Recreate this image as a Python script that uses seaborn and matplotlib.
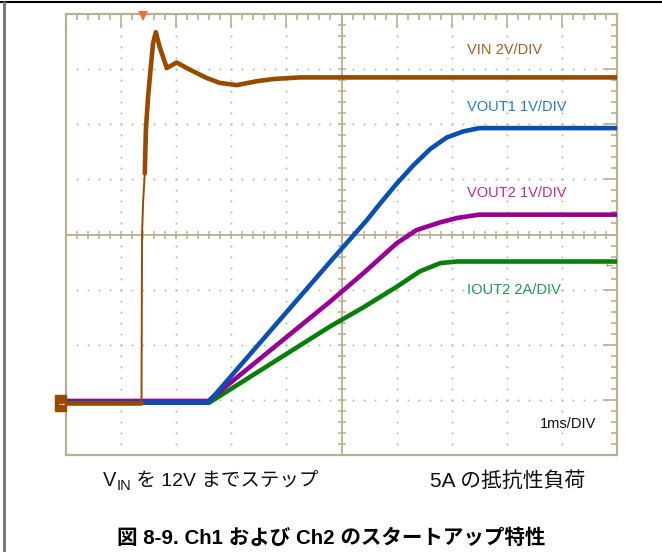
import numpy as np
import pandas as pd
import matplotlib.pyplot as plt
import seaborn as sns
from matplotlib.patches import Rectangle
from matplotlib.lines import Line2D

# ── scope traces, read in screen divisions (x: 1ms/div over 10 div, y: 8 div) ──
vin_t = [0, 1.37, 1.38, 1.40, 1.43, 1.45, 1.49, 1.54, 1.58, 1.63, 1.70, 1.83,
         2.01, 2.19, 2.55, 2.79, 3.10, 3.46, 3.76, 4.25, 10]
vin_v = [0.95, 0.95, 4.0, 4.6, 5.11, 5.90, 6.50, 7.05, 7.47, 7.67, 7.40, 7.02,
         7.12, 7.02, 6.84, 6.75, 6.71, 6.78, 6.82, 6.85, 6.85]

vout1_t = [0, 2.58, 4.79, 5.46, 5.70, 6.00, 6.30, 6.61, 6.91, 7.21, 7.50, 10]
vout1_v = [0.95, 0.95, 3.50, 4.26, 4.56, 4.92, 5.25, 5.55, 5.76, 5.87, 5.93, 5.93]

vout2_t = [0, 2.58, 4.79, 5.40, 6.00, 6.36, 6.79, 7.10, 7.50, 10]
vout2_v = [0.98, 0.98, 2.78, 3.30, 3.84, 4.08, 4.22, 4.30, 4.36, 4.36]

iout2_t = [0, 2.60, 4.79, 5.40, 6.00, 6.42, 6.79, 7.09, 10]
iout2_v = [0.95, 0.95, 2.33, 2.68, 3.05, 3.33, 3.48, 3.51, 3.51]

labels = ['VIN 2V/DIV', 'VOUT1 1V/DIV', 'VOUT2 1V/DIV', 'IOUT2 2A/DIV']
label_y = [7.34, 6.32, 4.75, 2.99]
trace_colors = ['#9a4a00', '#0a50b2', '#980098', '#07800a']
label_colors = ['#ab5a22', '#1f7fcf', '#c0289c', '#1e9a5a']

grid_col = '#b8b08e'

sns.set_style('white')
plt.rcParams['font.family'] = ['Liberation Sans', 'Noto Sans CJK JP']

W, H = 662, 552
fig = plt.figure(figsize=(W / 100, H / 100), dpi=100)
ax = fig.add_axes([66 / W, (H - 455) / H, 551 / W, 441 / H])
ax.set_xlim(0, 10)
ax.set_ylim(0, 8)

# dotted graticule
dx, dy = [], []
for gx in [1, 2, 3, 4, 6, 7, 8, 9]:
    for yy in np.arange(0.2, 8, 0.2):
        dx.append(gx); dy.append(yy)
for gy in [1, 2, 3, 5, 6, 7]:
    for xx in np.arange(0.2, 10, 0.2):
        dx.append(xx); dy.append(gy)
ax.plot(dx, dy, ls='none', marker='s', ms=1.2, mew=0, color=grid_col, zorder=1)

# centre cross with ticks
ax.axhline(4, color=grid_col, lw=1.3, zorder=1)
ax.axvline(5, color=grid_col, lw=1.3, zorder=1)
tx = np.arange(0.2, 10, 0.2)
ty = np.arange(0.2, 8, 0.2)
ax.plot(tx, np.full_like(tx, 4), ls='none', marker='|', ms=6, mew=1.1, color=grid_col, zorder=1)
ax.plot(np.full_like(ty, 5), ty, ls='none', marker='_', ms=6, mew=1.1, color=grid_col, zorder=1)

# traces
sns.lineplot(x=iout2_t, y=iout2_v, ax=ax, color=trace_colors[3], lw=3.3, sort=False, estimator=None, zorder=3)
sns.lineplot(x=vout2_t, y=vout2_v, ax=ax, color=trace_colors[2], lw=3.3, sort=False, estimator=None, zorder=4)
sns.lineplot(x=vout1_t, y=vout1_v, ax=ax, color=trace_colors[1], lw=3.3, sort=False, estimator=None, zorder=5)
sns.lineplot(x=vin_t[:2], y=vin_v[:2], ax=ax, color=trace_colors[0], lw=3.3, sort=False, estimator=None, zorder=6)
sns.lineplot(x=vin_t[1:5], y=vin_v[1:5], ax=ax, color=trace_colors[0], lw=1.4, sort=False, estimator=None, zorder=6)
sns.lineplot(x=vin_t[4:], y=vin_v[4:], ax=ax, color=trace_colors[0], lw=3.3, sort=False, estimator=None, zorder=6)

for lab, yy, c in zip(labels, label_y, label_colors):
    ax.text(7.28, yy, lab, color=c, fontsize=10.5, ha='left', va='center')
ax.text(9.63, 0.56, '1ms/DIV', color='#111111', fontsize=10.5, ha='right', va='center')

# markers: trigger position, ground reference, trigger level
ax.plot(1.40, 7.96, marker='v', ms=7, color='#ff6a3a', mew=0, clip_on=False, zorder=7)
ax.add_patch(Rectangle((-0.2, 0.80), 0.2, 0.29, color='#9a4a00', clip_on=False, zorder=7))
ax.text(-0.1, 0.945, '→', color='white', fontsize=7, fontweight='bold', ha='center', va='center', zorder=8)
ax.text(9.86, 3.47, '←', color='#c05a20', fontsize=8, ha='center', va='center', zorder=8)

# border
ax.set_xticks(np.arange(0, 10.01, 1))
ax.set_yticks(np.arange(0, 8.01, 1))
ax.set_xticks(np.arange(0, 10.01, 0.2), minor=True)
ax.set_yticks(np.arange(0, 8.01, 0.2), minor=True)
ax.tick_params(which='both', direction='in', top=True, right=True, color=grid_col,
               width=1.2, labelbottom=False, labelleft=False)
ax.tick_params(which='major', length=10)
ax.tick_params(which='minor', length=4.5)
for s in ax.spines.values():
    s.set_color(grid_col)
    s.set_linewidth(1.6)
ax.set_xlabel('')
ax.set_ylabel('')

# page frame
fig.add_artist(Line2D([0, 1], [1 - 2 / H, 1 - 2 / H], color='black', lw=1.5))
fig.add_artist(Line2D([3.5 / W, 3.5 / W], [0, 1 - 2 / H], color='#707070', lw=2))

# captions: V_IN built from pieces so the Japanese text keeps its CJK font
cap_y = 1 - 481 / H
renderer = fig.canvas.get_renderer()
t1 = fig.text(103 / W, cap_y, 'V', fontsize=14.5, ha='left', va='center', color='#111111')
x1 = t1.get_window_extent(renderer).x1
t2 = fig.text(x1 / W, cap_y - 5 / H, 'IN', fontsize=10.5, ha='left', va='center', color='#111111')
x2 = t2.get_window_extent(renderer).x1
fig.text(x2 / W, cap_y, ' を 12V までステップ', fontsize=14, ha='left', va='center', color='#111111')

fig.text(508 / W, cap_y, '5A の抵抗性負荷', fontsize=15, ha='center', va='center', color='#111111')
fig.text(331 / W, 1 - 538 / H, '図 8-9. Ch1 および Ch2 のスタートアップ特性', fontsize=14.8,
         fontweight='bold', ha='center', va='center', color='black')

fig.savefig('out.png', dpi=100)
